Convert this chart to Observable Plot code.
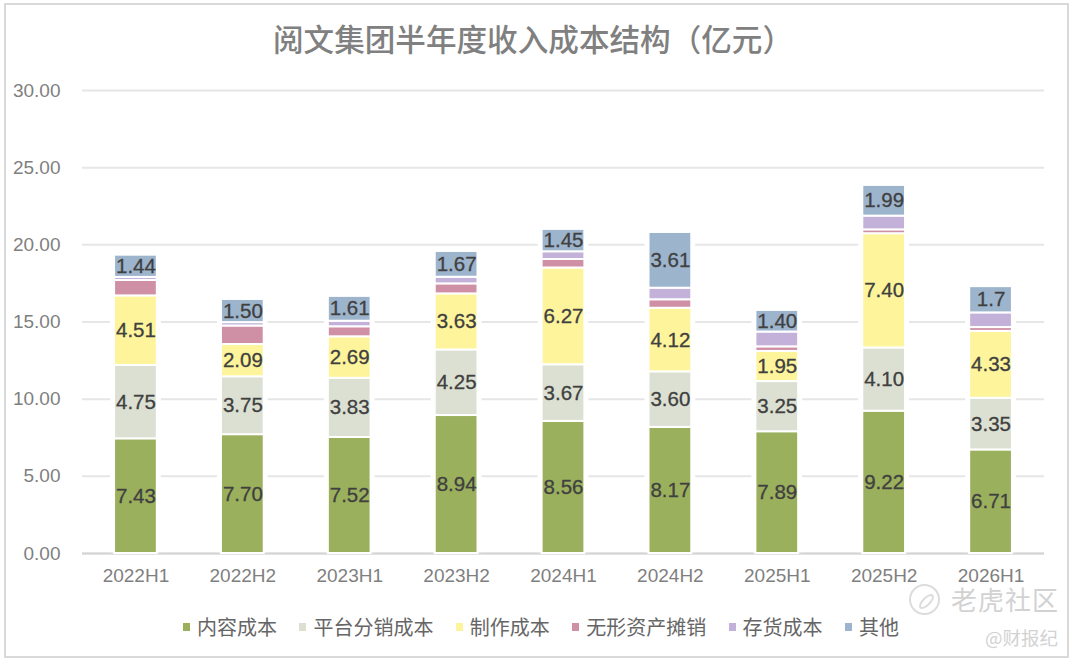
<!DOCTYPE html>
<html><head><meta charset="utf-8">
<script src="https://cdn.jsdelivr.net/npm/d3@7"></script>
<script src="https://cdn.jsdelivr.net/npm/@observablehq/plot@0.6"></script>
<style>
html,body{margin:0;padding:0;background:#fff}
#page{position:relative;width:1080px;height:661px;overflow:hidden;font-family:"Noto Sans CJK SC","Liberation Sans",sans-serif}
#frame{position:absolute;left:4px;top:3px;width:1065px;height:655px;border:2px solid #d9d9d9;box-sizing:border-box}
#title{position:relative;width:1066px;height:70px;line-height:77px;text-align:center;font-size:30.6px;font-weight:500;color:#808080}
#chart{position:relative}
#legend{position:absolute;left:183px;top:613px;display:flex;font-size:20px;color:#666;line-height:28px;white-space:nowrap}
#legend span.item{display:flex;align-items:center;margin-right:22.4px}
#legend i{display:inline-block;width:7px;height:8px;margin-right:7px}
.wm{position:absolute;color:#d2d2d2;white-space:nowrap}
#badge{position:absolute;left:909px;top:584px;width:27px;height:27px;border:2px solid #dcdcdc;border-radius:50%}
#badge b{position:absolute;left:6px;top:11px;width:15px;height:5px;border:2px solid #dcdcdc;border-radius:50%;transform:rotate(-45deg)}
</style></head><body>
<div id="page">
<div id="frame"></div>
<div id="title">阅文集团半年度收入成本结构（亿元）</div>
<div id="chart"></div>
<div id="legend"></div>
<div id="badge"><b></b></div>
<div class="wm" style="left:951px;top:588px;font-size:26px;letter-spacing:1px;line-height:22px">老虎社区</div>
<div class="wm" style="left:985px;top:625px;font-size:18.5px;line-height:24px">@财报纪</div>
</div>
<script>
const periods = ["2022H1","2022H2","2023H1","2023H2","2024H1","2024H2","2025H1","2025H2","2026H1"];
const seriesNames = ["内容成本","平台分销成本","制作成本","无形资产摊销","存货成本","其他"];
const colors = ["#9bb05d","#dbe0d2","#fdf49b","#cf90a6","#c3b1d9","#9db4cd"];
const content = [7.43,7.70,7.52,8.94,8.56,8.17,7.89,9.22,6.71];
const distribution = [4.75,3.75,3.83,4.25,3.67,3.60,3.25,4.10,3.35];
const production = [4.51,2.09,2.69,3.63,6.27,4.12,1.95,7.40,4.33];
const amortization = [1.00,1.20,0.65,0.65,0.55,0.55,0.30,0.25,0.25];
const inventory = [0.20,0.22,0.36,0.43,0.50,0.75,0.96,0.89,0.95];
const other = [1.44,1.50,1.61,1.67,1.45,3.61,1.40,1.99,1.7];
const labelled = [true,true,true,false,false,true];
const otherLabels = ["1.44","1.50","1.61","1.67","1.45","3.61","1.40","1.99","1.7"];
const yTicks = [0,5,10,15,20,25,30];

const columns = [content,distribution,production,amortization,inventory,other];
const rows = [];
columns.forEach((col,s)=>col.forEach((v,i)=>rows.push({
  period:periods[i], series:seriesNames[s], value:v,
  label: !labelled[s] ? "" : (s===5 ? otherLabels[i] : v.toFixed(2))
})));
const fx = {x:"period", y:"value", z:"series", order:seriesNames};

const chart = Plot.plot({
  width:1080, height:533,
  marginTop:20, marginRight:36, marginBottom:50, marginLeft:82,
  style:{fontFamily:'"Liberation Sans",sans-serif',fontSize:"19px",color:"#7f7f7f",background:"transparent",overflow:"visible"},
  x:{domain:periods,label:null,paddingInner:0.6,paddingOuter:0.3,align:0.5,round:false,tickSize:0,tickPadding:15},
  y:{domain:[0,30],label:null,ticks:yTicks,tickFormat:d=>d.toFixed(2),tickSize:0,tickPadding:22},
  color:{domain:seriesNames,range:colors},
  marks:[
    Plot.gridY(yTicks,{stroke:"#e6e6e6",strokeWidth:2,strokeOpacity:1}),
    Plot.barY(rows,Plot.stackY({...fx,fill:"#fff",z:null,insetLeft:-4,insetRight:-4,order:null})),
    Plot.ruleY([0],{stroke:"#d4d4d4",strokeWidth:2}),
    Plot.barY(rows,Plot.stackY({...fx,fill:"series",stroke:"#fff",strokeWidth:2})),
    Plot.text(rows,Plot.stackY({...fx,text:"label",fill:"#404040",stroke:"#404040",strokeWidth:0.3,fontSize:20.5,textAnchor:"middle"}))
  ]
});
document.getElementById("chart").appendChild(chart);
const lg = document.getElementById("legend");
seriesNames.forEach((n,i)=>{
  const s=document.createElement("span");s.className="item";
  const k=document.createElement("i");k.style.background=colors[i];
  s.appendChild(k);s.appendChild(document.createTextNode(n));lg.appendChild(s);
});
</script>
</body></html>
